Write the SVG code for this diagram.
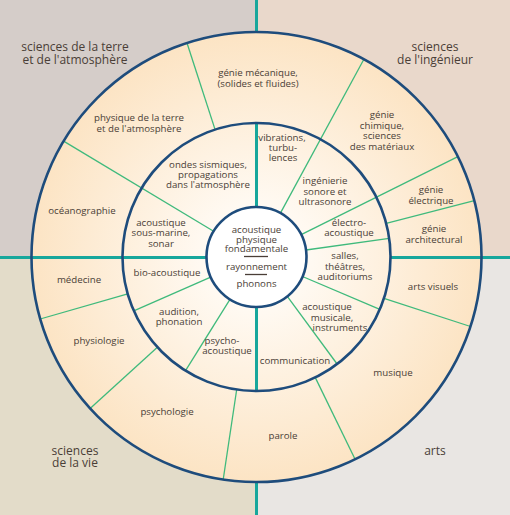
<svg xmlns="http://www.w3.org/2000/svg" width="510" height="515" viewBox="0 0 510 515">
<style>
.t{font-family:"Open Sans","Liberation Sans",sans-serif;font-size:9.7px;fill:#4a3e37;text-anchor:middle}
.q{font-family:"Open Sans","Liberation Sans",sans-serif;font-size:12px;fill:#4a3e37;text-anchor:middle}
.sp{stroke:#3fba7c;stroke-width:1.3;fill:none}
.tl{stroke:#17a79c;stroke-width:3;fill:none}
.ring{fill:none;stroke:#1e4c7c;stroke-width:2.6}
</style>
<defs>
<radialGradient id="g" gradientUnits="userSpaceOnUse" cx="256.5" cy="257" r="225">
<stop offset="0" stop-color="#ffffff"/>
<stop offset="0.25" stop-color="#fff9f1"/>
<stop offset="1" stop-color="#fce4c4"/>
</radialGradient>
</defs>
<g id="background">
<rect x="0" y="0" width="256.5" height="257.5" fill="#d5cdc9"/>
<rect x="256.5" y="0" width="253.5" height="257.5" fill="#e9d8cb"/>
<rect x="0" y="257.5" width="256.5" height="257.5" fill="#e3dcc9"/>
<rect x="256.5" y="257.5" width="253.5" height="257.5" fill="#e9e6e3"/>
<circle cx="256.5" cy="257" r="225" fill="url(#g)"/>
<circle cx="256.5" cy="257" r="50" fill="#ffffff"/>
</g>
<g id="connectors">
<line class="tl" x1="256.5" y1="0" x2="256.5" y2="32"/>
<line class="tl" x1="256.5" y1="123" x2="256.5" y2="207"/>
<line class="tl" x1="256.5" y1="307" x2="256.5" y2="391"/>
<line class="tl" x1="256.5" y1="482" x2="256.5" y2="515"/>
<line class="tl" x1="0" y1="257.5" x2="207" y2="257.5"/>
<line class="tl" x1="390" y1="257.5" x2="510" y2="257.5"/>
<line class="sp" x1="213.6" y1="231.2" x2="63.6" y2="141.1"/>
<line class="sp" x1="280.4" y1="213.1" x2="363.9" y2="59.3"/>
<line class="sp" x1="301.2" y1="234.7" x2="457.9" y2="156.6"/>
<line class="sp" x1="215.1" y1="129.6" x2="187.0" y2="43.0"/>
<line class="sp" x1="386.2" y1="223.4" x2="474.3" y2="200.7"/>
<line class="sp" x1="384.0" y1="298.4" x2="470.5" y2="326.5"/>
<line class="sp" x1="315.2" y1="377.4" x2="355.1" y2="459.2"/>
<line class="sp" x1="236.7" y1="389.5" x2="223.2" y2="479.5"/>
<line class="sp" x1="157.4" y1="347.2" x2="90.1" y2="408.4"/>
<line class="sp" x1="127.7" y1="293.9" x2="40.2" y2="319.0"/>
<line class="sp" x1="306.0" y1="250.0" x2="389.2" y2="238.3"/>
<line class="sp" x1="302.5" y1="276.5" x2="379.8" y2="309.4"/>
<line class="sp" x1="287.3" y1="296.4" x2="337.1" y2="364.0"/>
<line class="sp" x1="230.0" y1="299.4" x2="185.5" y2="370.6"/>
<line class="sp" x1="210.7" y1="277.1" x2="133.8" y2="310.9"/>
<circle class="ring" cx="256.5" cy="257" r="225"/>
<circle class="ring" cx="256.5" cy="257" r="134"/>
<circle class="ring" cx="256.5" cy="257" r="50"/>
<line x1="244" y1="256.5" x2="268" y2="256.5" stroke="#4a3e37" stroke-width="1.3"/>
<line x1="245" y1="274.5" x2="267" y2="274.5" stroke="#4a3e37" stroke-width="1.3"/>
</g>
<g id="q-terre"><text class="q" x="75" y="51">sciences de la terre</text><text class="q" x="75" y="64">et de l'atmosphère</text></g>
<g id="q-ingenieur"><text class="q" x="435" y="51">sciences</text><text class="q" x="435" y="64">de l'ingénieur</text></g>
<g id="q-vie"><text class="q" x="75" y="455">sciences</text><text class="q" x="75" y="467">de la vie</text></g>
<g id="q-arts"><text class="q" x="435" y="455">arts</text></g>
<g id="center"><text class="t" x="256.5" y="232.5">acoustique</text><text class="t" x="256.5" y="242.5">physique</text><text class="t" x="256.5" y="252">fondamentale</text><text class="t" x="256.5" y="269.5">rayonnement</text><text class="t" x="256.5" y="286.5">phonons</text></g>
<g id="genie-mecanique"><text class="t" x="258" y="75.5">génie mécanique,</text><text class="t" x="258" y="87">(solides et fluides)</text></g>
<g id="physique-terre"><text class="t" x="139" y="120.5">physique de la terre</text><text class="t" x="139" y="131.5">et de l'atmosphère</text></g>
<g id="oceanographie"><text class="t" x="82" y="213.5">océanographie</text></g>
<g id="medecine"><text class="t" x="79" y="282.5">médecine</text></g>
<g id="physiologie"><text class="t" x="99" y="343.5">physiologie</text></g>
<g id="psychologie"><text class="t" x="167" y="414.5">psychologie</text></g>
<g id="parole"><text class="t" x="283" y="438.5">parole</text></g>
<g id="musique"><text class="t" x="393" y="375.5">musique</text></g>
<g id="arts-visuels"><text class="t" x="433" y="289.5">arts visuels</text></g>
<g id="genie-architectural"><text class="t" x="434" y="231.5">génie</text><text class="t" x="434" y="242.5">architectural</text></g>
<g id="genie-electrique"><text class="t" x="431" y="192.5">génie</text><text class="t" x="431" y="203.5">électrique</text></g>
<g id="genie-chimique"><text class="t" x="382" y="117.5">génie</text><text class="t" x="382" y="128.5">chimique,</text><text class="t" x="382" y="138.5">sciences</text><text class="t" x="382" y="149.5">des matériaux</text></g>
<g id="ondes-sismiques"><text class="t" x="208" y="167.5">ondes sismiques,</text><text class="t" x="208" y="177.5">propagations</text><text class="t" x="208" y="187.5">dans l'atmosphère</text></g>
<g id="sous-marine"><text class="t" x="161" y="225.5">acoustique</text><text class="t" x="161" y="235.5">sous-marine,</text><text class="t" x="161" y="246.5">sonar</text></g>
<g id="vibrations"><text class="t" x="282" y="140.5">vibrations,</text><text class="t" x="283" y="150.5">turbu-</text><text class="t" x="283" y="160.5">lences</text></g>
<g id="ingenierie-sonore"><text class="t" x="325" y="183.5">ingénierie</text><text class="t" x="325" y="194.5">sonore et</text><text class="t" x="325" y="204.5">ultrasonore</text></g>
<g id="electro-acoustique"><text class="t" x="349" y="225.5">électro-</text><text class="t" x="349" y="235.5">acoustique</text></g>
<g id="salles"><text class="t" x="345" y="258.5">salles,</text><text class="t" x="345" y="269.5">théâtres,</text><text class="t" x="345" y="279.5">auditoriums</text></g>
<g id="acoustique-musicale"><text class="t" x="327" y="309.5">acoustique</text><text class="t" x="332" y="320.5">musicale,</text><text class="t" x="340" y="330.5">instruments</text></g>
<g id="communication"><text class="t" x="295" y="363.5">communication</text></g>
<g id="psychoacoustique"><text class="t" x="222" y="343.5">psycho-</text><text class="t" x="227" y="353.5">acoustique</text></g>
<g id="audition"><text class="t" x="179" y="314.5">audition,</text><text class="t" x="179" y="324.5">phonation</text></g>
<g id="bio-acoustique"><text class="t" x="167" y="275.5">bio-acoustique</text></g>
</svg>
